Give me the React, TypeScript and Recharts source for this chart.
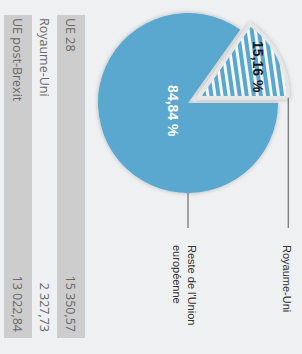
import React from "react";
import { PieChart, Pie, Cell } from "recharts";

// slices of the pie (UE 28 split)
const sliceNames = ["Royaume-Uni", "Reste de l'Union européenne"];
const sliceValues = [2327.73, 13022.84];
const sliceLabelLines = [["Royaume-Uni"], ["Reste de l'Union", "européenne"]];

// table under the pie
const tableLabels = ["UE 28", "Royaume-Uni", "UE post-Brexit"];
const tableValues = ["15 350,57", "2 327,73", "13 022,84"];

const BLUE = "#5aa8cf";
const RAD = Math.PI / 180;

const data = sliceNames.map((name, i) => ({ name, value: sliceValues[i] }));

const fmtPct = (p: number) => `${(p * 100).toFixed(2).replace(".", ",")} %`;

function leader(sx: number, sy: number, lines: string[]) {
  const endX = 228;
  // single label sits on the line, two-line label starts just above it
  const first = lines.length > 1 ? -4 : 1;
  return (
    <g>
      <line x1={sx} y1={sy} x2={endX} y2={sy} stroke="#555" strokeWidth={1} />
      {lines.map((t, i) => (
        <text
          key={i}
          x={endX + 17}
          y={sy + first + i * 15}
          dominantBaseline="central"
          fontFamily="Liberation Sans, Arial, sans-serif"
          fontSize={11}
          fill="#333"
        >
          {t}
        </text>
      ))}
    </g>
  );
}

// label of the big slice: percentage + leader to the right
const mainLabel = (props: any) => {
  const { cx, cy, midAngle, outerRadius, index, percent } = props;
  if (index !== 1) return <g />;
  const r = 17;
  const x = cx + r * Math.cos(-midAngle * RAD);
  const y = cy + r * Math.sin(-midAngle * RAD);
  return (
    <g>
      <text x={x} y={y} textAnchor="middle" dominantBaseline="central" fill="#fff"
        fontFamily="Liberation Sans, Arial, sans-serif" fontSize={14} fontWeight={700}>
        {fmtPct(percent)}
      </text>
      {leader(cx + outerRadius, cy, sliceLabelLines[1])}
    </g>
  );
};

// label of the exploded slice
const ukLabel = (props: any) => {
  const { cx, cy, midAngle, outerRadius, index, percent } = props;
  if (index !== 0) return <g />;
  const r = outerRadius * 0.75;
  const x = cx + r * Math.cos(-midAngle * RAD);
  const y = cy + r * Math.sin(-midAngle * RAD);
  return (
    <g>
      <text x={x} y={y} textAnchor="middle" dominantBaseline="central" fill="#1a1a1a"
        fontFamily="Liberation Sans, Arial, sans-serif" fontSize={14} fontWeight={700}>
        {fmtPct(percent)}
      </text>
      {leader(cx, cy - outerRadius, sliceLabelLines[0])}
    </g>
  );
};

export default function App() {
  const cx = 103;
  const cy = 114;
  const radius = 90;
  // exploded slice offset along its middle angle
  const ukMid = 90 + (sliceValues[0] / (sliceValues[0] + sliceValues[1])) * 180;
  const off = 11.5;
  const ex = cx + off * Math.cos(-ukMid * RAD);
  const ey = cy + off * Math.sin(-ukMid * RAD);

  return (
    <div style={{ position: "fixed", left: 0, top: 0, width: 302, height: 354, background: "#eef0f2", overflow: "hidden" }}>
      <div
        style={{
          position: "absolute", left: 0, top: 0, width: 354, height: 302,
          transformOrigin: "0 0", transform: "translate(302px, 0) rotate(90deg)",
        }}
      >
        <PieChart width={354} height={302} margin={{ top: 0, right: 0, bottom: 0, left: 0 }}>
          <defs>
            <pattern id="stripes" width="7" height="7" patternUnits="userSpaceOnUse" patternTransform="rotate(-8)">
              <rect width="7" height="7" fill={BLUE} />
              <rect width="7" height="3" fill="#f4f6f8" />
            </pattern>
            <filter id="shadow" x="-20%" y="-20%" width="140%" height="140%">
              <feDropShadow dx="0" dy="0" stdDeviation="2" floodColor="#000" floodOpacity="0.25" />
            </filter>
          </defs>
          <Pie
            data={data}
            dataKey="value"
            cx={cx}
            cy={cy}
            outerRadius={radius}
            startAngle={90}
            endAngle={450}
            isAnimationActive={false}
            label={mainLabel}
            labelLine={false}
          >
            <Cell fill="transparent" stroke="none" />
            <Cell fill={BLUE} stroke="none" filter="url(#shadow)" />
          </Pie>
          <Pie
            data={data}
            dataKey="value"
            cx={ex}
            cy={ey}
            outerRadius={radius}
            startAngle={90}
            endAngle={450}
            isAnimationActive={false}
            label={ukLabel}
            labelLine={false}
          >
            <Cell fill="url(#stripes)" stroke="#e6e6e6" strokeWidth={3.5} strokeLinejoin="round" filter="url(#shadow)" />
            <Cell fill="transparent" stroke="none" />
          </Pie>
        </PieChart>
        <div style={{ position: "absolute", left: 15, top: 217, width: 323 }}>
          {tableLabels.map((lab, i) => (
            <div
              key={lab}
              style={{
                display: "flex", justifyContent: "space-between", alignItems: "center",
                height: i === 1 ? 25 : 28, padding: "0 6px 0 3px",
                background: i === 1 ? "transparent" : "#cdcdcd",
                fontFamily: "'Open Sans', sans-serif", fontSize: 12.5, color: "#696969",
              }}
            >
              <span>{lab}</span>
              <span>{tableValues[i]}</span>
            </div>
          ))}
        </div>
      </div>
    </div>
  );
}
